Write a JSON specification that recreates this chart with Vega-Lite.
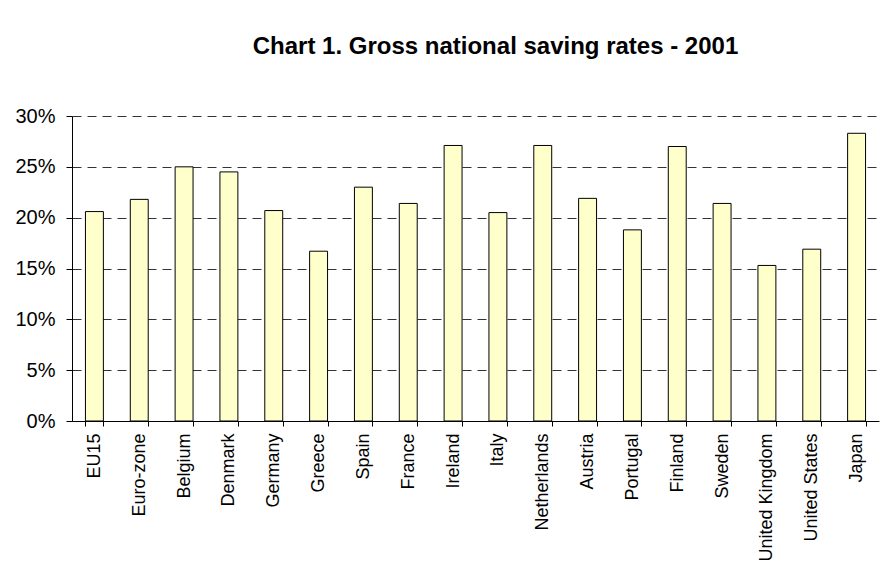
{
  "$schema": "https://vega.github.io/schema/vega-lite/v6.json",
  "width": 807,
  "height": 305,
  "autosize": {"type": "none"},
  "padding": {"left": 72, "top": 116, "right": 9, "bottom": 143},
  "background": "white",
  "title": {
    "text": "Chart 1. Gross national saving rates - 2001",
    "font": "Liberation Sans",
    "fontSize": 24,
    "fontWeight": "bold",
    "color": "black",
    "anchor": "middle",
    "offset": 47,
    "dx": 20
  },
  "data": {
    "values": [
      {"country": "EU15", "rate": 20.6},
      {"country": "Euro-zone", "rate": 21.8},
      {"country": "Belgium", "rate": 25.0},
      {"country": "Denmark", "rate": 24.5},
      {"country": "Germany", "rate": 20.7},
      {"country": "Greece", "rate": 16.7},
      {"country": "Spain", "rate": 23.0},
      {"country": "France", "rate": 21.4},
      {"country": "Ireland", "rate": 27.1},
      {"country": "Italy", "rate": 20.5},
      {"country": "Netherlands", "rate": 27.1},
      {"country": "Austria", "rate": 21.9},
      {"country": "Portugal", "rate": 18.8},
      {"country": "Finland", "rate": 27.0},
      {"country": "Sweden", "rate": 21.4},
      {"country": "United Kingdom", "rate": 15.3},
      {"country": "United States", "rate": 16.9},
      {"country": "Japan", "rate": 28.3}
    ]
  },
  "mark": {"type": "bar", "fill": "#FFFFCC", "stroke": "black", "strokeWidth": 1},
  "encoding": {
    "x": {
      "field": "country",
      "type": "nominal",
      "sort": null,
      "scale": {"paddingInner": 0.6, "paddingOuter": 0.3},
      "axis": {
        "title": null,
        "labelAngle": 270,
        "labelAlign": "right",
        "labelBaseline": "middle",
        "labelFont": "Liberation Sans",
        "labelFontSize": 18,
        "labelColor": "black",
        "labelPadding": 7,
        "tickBand": "extent",
        "tickSize": 5,
        "tickColor": "black",
        "domainColor": "black",
        "grid": false
      }
    },
    "y": {
      "field": "rate",
      "type": "quantitative",
      "scale": {"domain": [0, 30], "nice": false},
      "axis": {
        "title": null,
        "values": [0, 5, 10, 15, 20, 25, 30],
        "labelExpr": "datum.value + '%'",
        "labelFont": "Liberation Sans",
        "labelFontSize": 20,
        "labelColor": "black",
        "labelPadding": 11,
        "tickSize": 6,
        "tickColor": "black",
        "domainColor": "black",
        "grid": true,
        "gridColor": "#333333",
        "gridDash": [9, 6],
        "gridWidth": 1
      }
    }
  },
  "config": {
    "view": {"stroke": null},
    "axis": {"labelFlush": false, "labelOverlap": false}
  }
}
